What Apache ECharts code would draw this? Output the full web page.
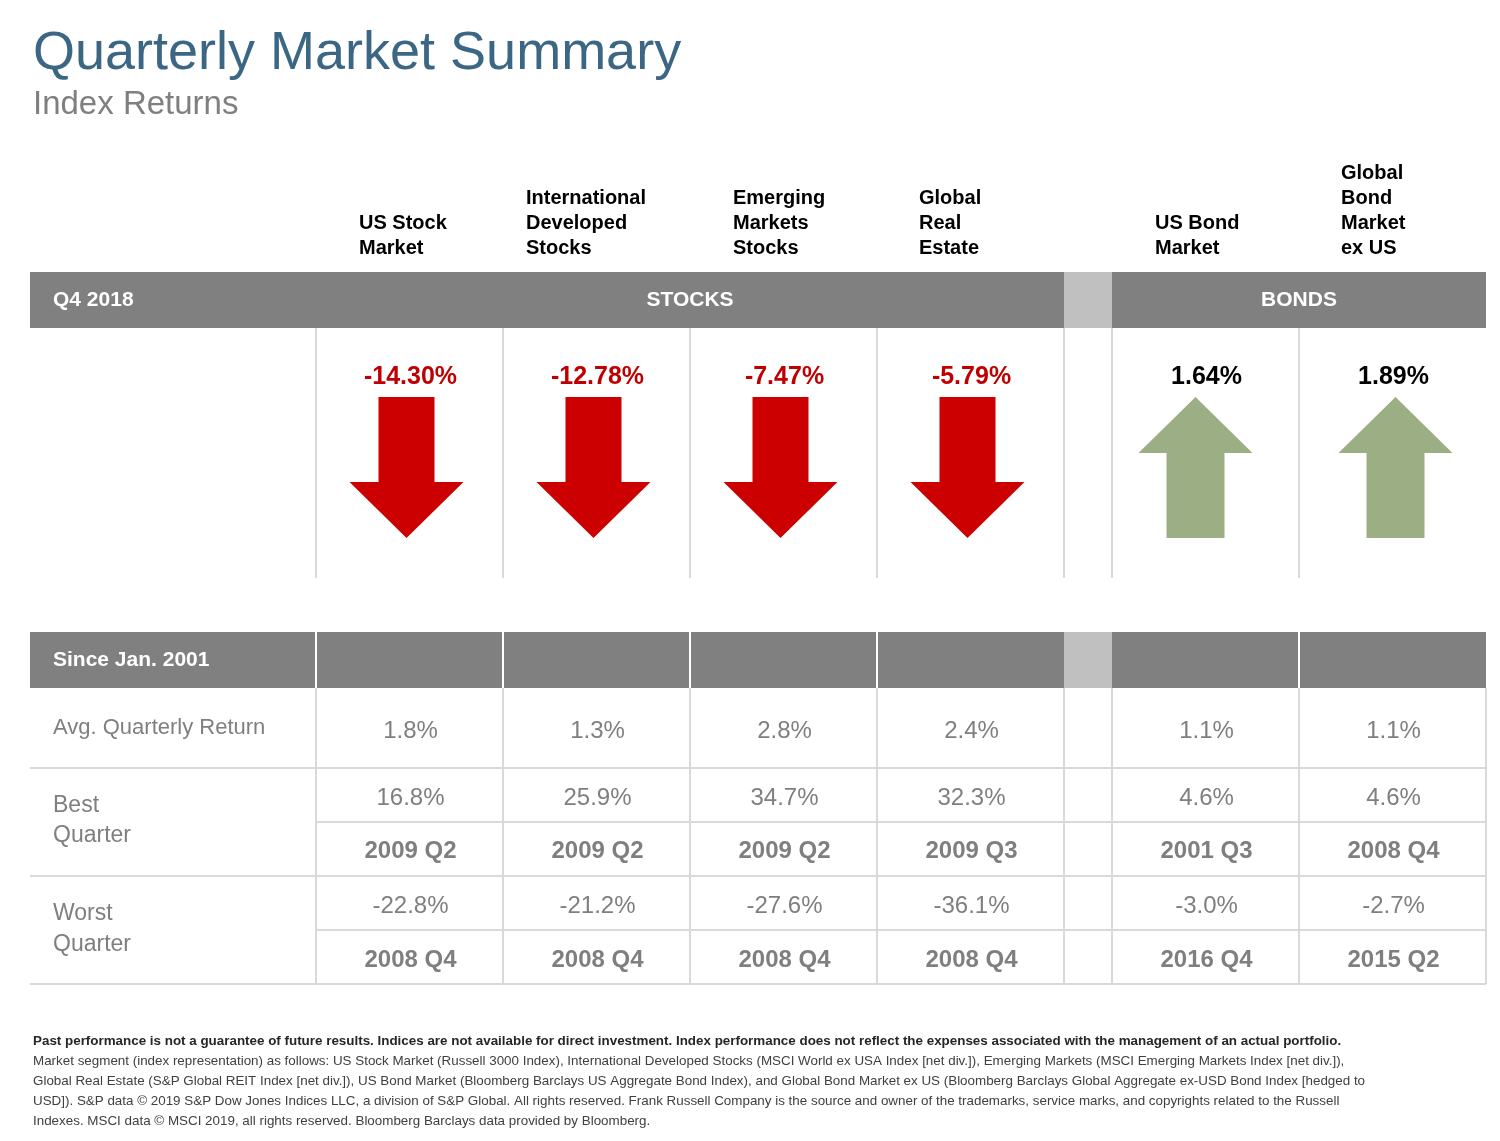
<!DOCTYPE html>
<html><head><meta charset="utf-8">
<script src="https://cdn.jsdelivr.net/npm/echarts@6/dist/echarts.min.js"></script>
<style>html,body{margin:0;padding:0;background:#fff}#c{width:1500px;height:1141px}</style>
</head><body><div id="c"></div>
<script>
const categories = ["US Stock\nMarket","International\nDeveloped\nStocks","Emerging\nMarkets\nStocks","Global\nReal\nEstate","US Bond\nMarket","Global\nBond\nMarket\nex US"];
const quarterReturns = [-14.30,-12.78,-7.47,-5.79,1.64,1.89];
const avgReturn = ["1.8%","1.3%","2.8%","2.4%","1.1%","1.1%"];
const bestValue = ["16.8%","25.9%","34.7%","32.3%","4.6%","4.6%"];
const bestQuarter = ["2009 Q2","2009 Q2","2009 Q2","2009 Q3","2001 Q3","2008 Q4"];
const worstValue = ["-22.8%","-21.2%","-27.6%","-36.1%","-3.0%","-2.7%"];
const worstQuarter = ["2008 Q4","2008 Q4","2008 Q4","2008 Q4","2016 Q4","2015 Q2"];
const footBold = "Past performance is not a guarantee of future results. Indices are not available for direct investment. Index performance does not reflect the expenses associated with the management of an actual portfolio.";
const footText = "Market segment (index representation) as follows: US Stock Market (Russell 3000 Index), International Developed Stocks (MSCI World ex USA Index [net div.]), Emerging Markets (MSCI Emerging Markets Index [net div.]),\nGlobal Real Estate (S&P Global REIT Index [net div.]), US Bond Market (Bloomberg Barclays US Aggregate Bond Index), and Global Bond Market ex US (Bloomberg Barclays Global Aggregate ex-USD Bond Index [hedged to\nUSD]). S&P data © 2019 S&P Dow Jones Indices LLC, a division of S&P Global. All rights reserved. Frank Russell Company is the source and owner of the trademarks, service marks, and copyrights related to the Russell\nIndexes. MSCI data © MSCI 2019, all rights reserved. Bloomberg Barclays data provided by Bloomberg.";

const F = "Arial, 'Liberation Sans', sans-serif";
const colL = [316,503,690,877,1112,1299], colW = 187;
const arrowShift = [-3,-3,-3,-3,-10,3];
const cx = i => colL[i] + colW/2;
const G = [];
const rect = (x,y,w,h,fill)=>G.push({type:'rect',shape:{x,y,width:w,height:h},style:{fill}});
const line = (x1,y1,x2,y2,c='#d9d9d9',w=2)=>G.push({type:'line',shape:{x1,y1,x2,y2},style:{stroke:c,lineWidth:w}});
const text = (x,y,t,o)=>G.push({type:'text',x,y,style:Object.assign({text:t,font:'20px '+F,fill:'#7f7f7f',textVerticalAlign:'middle'},o)});

text(33,54,"Quarterly Market Summary",{font:'54px '+F,fill:'#3b6784'});
text(33,105,"Index Returns",{font:'33px '+F,fill:'#7f7f7f'});
const hx=[359,526,733,919,1155,1341];
categories.forEach((c,i)=>{
  const n=c.split("\n").length;
  text(hx[i],0,c,{font:'bold 20px '+F,fill:'#000',lineHeight:25,textVerticalAlign:'top'});
  G[G.length-1].y=248-(n-1)*25-12;
});
rect(30,272,1034,56,'#808080'); rect(1064,272,48,56,'#c0c0c0'); rect(1112,272,374,56,'#808080');
text(53,300,"Q4 2018",{font:'bold 21px '+F,fill:'#fff'});
text(690,300,"STOCKS",{font:'bold 21px '+F,fill:'#fff',textAlign:'center'});
text(1299,300,"BONDS",{font:'bold 21px '+F,fill:'#fff',textAlign:'center'});
[316,503,690,877,1064,1112,1299].forEach(x=>line(x,328,x,578));
quarterReturns.forEach((v,i)=>{
  const neg=v<0;
  text(cx(i)+1,377,v.toFixed(2)+"%",{font:'bold 25px '+F,fill:neg?'#c00000':'#000',textAlign:'center'});
  const c = cx(i)+arrowShift[i];
  const pts = neg
    ? [[c-28,397],[c+28,397],[c+28,482],[c+57,482],[c,538],[c-57,482],[c-28,482]]
    : [[c,397],[c+57,453],[c+29,453],[c+29,538],[c-29,538],[c-29,453],[c-57,453]];
  G.push({type:'polygon',shape:{points:pts},style:{fill:neg?'#cc0000':'#9caf84'}});
});
rect(30,632,1034,56,'#808080'); rect(1064,632,48,56,'#c0c0c0'); rect(1112,632,374,56,'#808080');
[316,503,690,877,1299].forEach(x=>line(x,632,x,688,'#ffffff',2));
text(53,660,"Since Jan. 2001",{font:'bold 21px '+F,fill:'#fff'});
[316,503,690,877,1064,1112,1299,1486].forEach(x=>line(x,688,x,984));
line(30,768,1486,768); line(316,822,1486,822); line(30,876,1486,876); line(316,930,1486,930); line(30,984,1486,984);
text(53,728,"Avg. Quarterly Return",{font:'22px '+F});
text(53,806,"Best",{font:'23px '+F}); text(53,836,"Quarter",{font:'23px '+F});
text(53,914,"Worst",{font:'23px '+F}); text(53,945,"Quarter",{font:'23px '+F});
const rows=[[avgReturn,730,''],[bestValue,797,''],[bestQuarter,850,'bold '],[worstValue,905,''],[worstQuarter,959,'bold ']];
rows.forEach(([arr,y,b])=>arr.forEach((t,i)=>text(cx(i)+1,y+1,t,{font:b+'24px '+F,textAlign:'center',fill:'#7f7f7f'})));
text(33,1041,footBold,{font:'bold 13.4px "Liberation Sans Narrow", '+F,fill:'#262626'});
text(33,1091,footText,{font:'13.4px "Liberation Sans Narrow", '+F,fill:'#404040',lineHeight:20});

const chart=echarts.init(document.getElementById('c'));
chart.setOption({animation:false,graphic:G});
</script></body></html>
